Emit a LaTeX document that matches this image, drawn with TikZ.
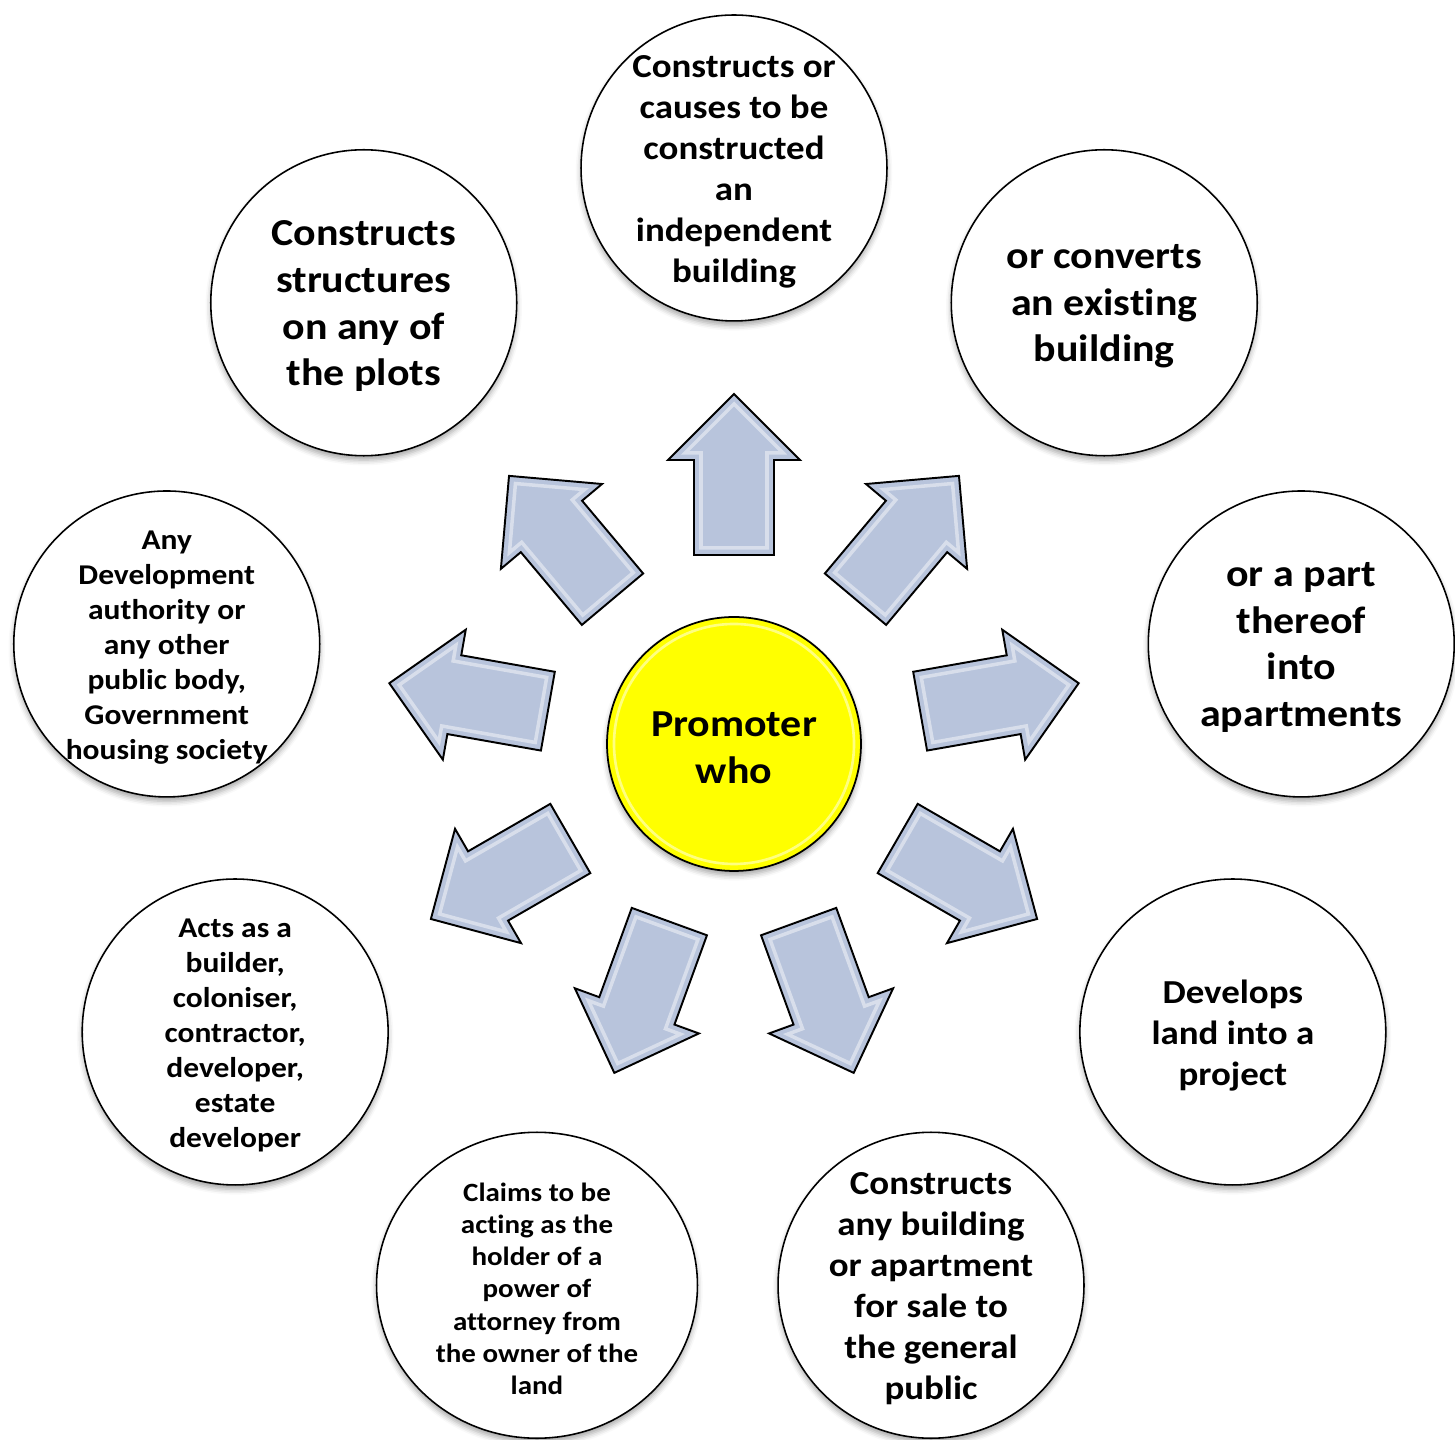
\documentclass[tikz,border=0pt]{standalone}
\usepackage{fontspec}
\setmainfont{Carlito}[FakeStretch=1.1, Ligatures={NoCommon,NoContextual}, Contextuals=NoAlternate]
\usetikzlibrary{shapes.geometric,shadows.blur,calc}
\definecolor{arrowfill}{HTML}{B8C4DC}
\definecolor{hubyellow}{HTML}{FFFF00}
\tikzset{
  ring/.style={circle, draw=black, line width=0.9pt, fill=white, minimum size=6.12cm, inner sep=0pt,
    blur shadow={shadow xshift=0pt, shadow yshift=-2.5pt, shadow blur radius=3pt, shadow opacity=35}},
  ringwide/.style={ring, ellipse, minimum width=6.42cm, minimum height=6.12cm},
  hub/.style={circle, draw=black, line width=1pt, fill=hubyellow, minimum size=5.08cm, inner sep=0pt,
    blur shadow={shadow xshift=0pt, shadow yshift=-2.5pt, shadow blur radius=3pt, shadow opacity=35}},
  txt/.style={align=center, inner sep=0pt, yshift=-2pt},
  txtbig/.style={txt, font=\bfseries\fontsize{21.7pt}{26.5pt}\selectfont},
  txtmid/.style={txt, font=\bfseries\fontsize{19.1pt}{23.3pt}\selectfont},
  txtsml/.style={txt, font=\bfseries\fontsize{16.3pt}{19.9pt}\selectfont},
  txttiny/.style={txt, font=\bfseries\fontsize{15pt}{18.3pt}\selectfont},
  arrowbody/.style={fill=arrowfill, draw=black, line width=1.1pt, line join=miter},
  bevel/.style={draw=white, line width=2pt, opacity=0.45, line join=miter},
}
\begin{document}
\begin{tikzpicture}[x=0.02cm, y=0.02cm]
\useasboundingbox (0,0) rectangle (1455,1440);
\coordinate (ctr) at (734,696);

% block arrows
\foreach \a in {90,50,10,-30,-70,-110,-150,170,130}{
  \begin{scope}[shift={(ctr)}, rotate=\a]
    \draw[arrowbody] (189,-40) -- (284,-40) -- (284,-66) -- (350,0) -- (284,66) -- (284,40) -- (189,40) -- cycle;
    \draw[bevel] (196,-33) -- (291,-33) -- (291,-49) -- (340,0) -- (291,49) -- (291,33) -- (196,33) -- cycle;
  \end{scope}
}

% hub
\node[hub] (hub) at (ctr) {};
\draw[white, opacity=0.5, line width=1.5pt] (hub.center) circle[radius=120];
\node[txtbig] (thub) at (hub.center) {Promoter\\who};

% outer circles
\node[ring] (c1) at ($(ctr)+(90:576)$) {};
\node[ring] (c2) at ($(ctr)+(50:576)$) {};
\node[ring] (c3) at ($(ctr)+(10:576)$) {};
\node[ring] (c4) at ($(ctr)+(-30:576)$) {};
\node[ring] (c5) at ($(ctr)+(-70:576)$) {};
\node[ringwide] (c6) at ($(ctr)+(-110:576)$) {};
\node[ring] (c7) at ($(ctr)+(-150:576)$) {};
\node[ring] (c8) at ($(ctr)+(170:576)$) {};
\node[ring] (c9) at ($(ctr)+(130:576)$) {};

\node[txtmid] (t1) at (c1.center) {Constructs or\\causes to be\\constructed\\an\\independent\\building};
\node[txtbig] (t2) at (c2.center) {or converts\\an exist\kern0pt ing\\building};
\node[txtbig] (t3) at (c3.center) {or a part\\thereof\\into\\apartments};
\node[txtmid] (t4) at (c4.center) {Develops\\land into a\\project};
\node[txtmid] (t5) at (c5.center) {Constructs\\any building\\or apartment\\for sale to\\the general\\public};
\node[txttiny] (t6) at (c6.center) {Claims to be\\act\kern0pt ing as the\\holder of a\\power of\\attorney from\\the owner of the\\land};
\node[txtsml] (t7) at (c7.center) {Acts as a\\builder,\\coloniser,\\contractor,\\developer,\\estate\\developer};
\node[txtsml] (t8) at (c8.center) {Any\\Development\\authority or\\any other\\public body,\\Government\\housing society};
\node[txtbig] (t9) at (c9.center) {Constructs\\structures\\on any of\\the plots};
\end{tikzpicture}
\end{document}
